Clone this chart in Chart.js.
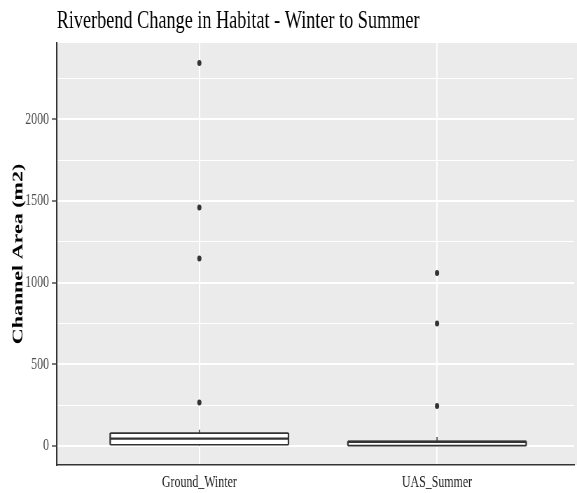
<!DOCTYPE html>
<html>
<head>
<meta charset="utf-8">
<script src="https://cdn.jsdelivr.net/npm/chart.js@4"></script>
<style>
html,body{margin:0;padding:0;overflow:hidden;background:#fff;width:577px;height:493px;}
#c{position:absolute;left:0;top:0;width:824px;height:493px;transform:scaleX(0.7002);transform-origin:0 0;}
</style>
</head>
<body>
<canvas id="c" width="824" height="493"></canvas>
<script>
// ---- data ----
const categories = ["Ground_Winter", "UAS_Summer"];
const whiskerLow  = [2, 0];
const q1          = [7, 1];
const median      = [44, 24];
const q3          = [78, 28];
const whiskerHigh = [99, 54];
const outliersGround = [2345, 1460, 1148, 265];
const outliersUAS    = [1059, 749, 244];
const yTicks = [0, 250, 500, 750, 1000, 1250, 1500, 1750, 2000, 2250];
const yMin = -117.5, yMax = 2467.5;
const xMin = 0.4, xMax = 2.577;

const SERIF = "'Liberation Serif', 'Times New Roman', serif";
const DARK = "#333333";

const panelBg = {
  id: 'panelBg',
  beforeDraw(chart) {
    const {ctx, chartArea: a} = chart;
    ctx.save();
    ctx.fillStyle = '#EBEBEB';
    ctx.fillRect(a.left, a.top, Math.max(a.right, chart.width) - a.left, a.bottom - a.top);
    ctx.restore();
  }
};

const boxPlot = {
  id: 'boxPlot',
  beforeDatasetsDraw(chart) {
    const {ctx} = chart;
    const xs = chart.scales.x, ys = chart.scales.y;
    const halfW = 0.375;
    ctx.save();
    categories.forEach((c, i) => {
      const pos = i + 1;
      const xc = xs.getPixelForValue(pos);
      const xl = xs.getPixelForValue(pos - halfW);
      const xr = xs.getPixelForValue(pos + halfW);
      const yq1 = ys.getPixelForValue(q1[i]);
      const yq3 = ys.getPixelForValue(q3[i]);
      const ymed = ys.getPixelForValue(median[i]);
      const ylo = ys.getPixelForValue(whiskerLow[i]);
      const yhi = ys.getPixelForValue(whiskerHigh[i]);
      ctx.strokeStyle = DARK;
      ctx.lineWidth = 1.5;
      ctx.beginPath();
      ctx.moveTo(xc, yq3); ctx.lineTo(xc, yhi);
      ctx.moveTo(xc, yq1); ctx.lineTo(xc, ylo);
      ctx.stroke();
      ctx.fillStyle = '#ffffff';
      ctx.fillRect(xl, yq3, xr - xl, yq1 - yq3);
      ctx.lineWidth = 1.6;
      ctx.beginPath();
      ctx.moveTo(xl, yq3); ctx.lineTo(xr, yq3);
      ctx.moveTo(xl, yq1); ctx.lineTo(xr, yq1);
      ctx.stroke();
      ctx.lineWidth = 2.2;
      ctx.beginPath();
      ctx.moveTo(xl, yq3); ctx.lineTo(xl, yq1);
      ctx.moveTo(xr, yq3); ctx.lineTo(xr, yq1);
      ctx.stroke();
      ctx.lineWidth = 2.4;
      ctx.beginPath();
      ctx.moveTo(xl, ymed); ctx.lineTo(xr, ymed);
      ctx.stroke();
    });
    ctx.restore();
  }
};

new Chart(document.getElementById('c'), {
  type: 'scatter',
  data: {
    datasets: [
      { data: outliersGround.map(v => ({x: 1, y: v})) },
      { data: outliersUAS.map(v => ({x: 2, y: v})) }
    ]
  },
  options: {
    responsive: false,
    devicePixelRatio: 1,
    animation: false,
    layout: { padding: { left: 0, right: -6, top: 0, bottom: 0 } },
    elements: {
      point: { radius: 3, backgroundColor: DARK, borderColor: DARK, borderWidth: 0 }
    },
    plugins: {
      legend: { display: false },
      tooltip: { enabled: false },
      title: {
        display: true,
        text: 'Riverbend Change in Habitat - Winter to Summer',
        align: 'start',
        fullSize: false,
        color: '#000',
        font: { family: SERIF, size: 26, weight: 'normal' },
        padding: { top: 6, bottom: 5.8 }
      }
    },
    scales: {
      x: {
        type: 'linear',
        min: xMin, max: xMax,
        afterBuildTicks(scale) { scale.ticks = categories.map((c, i) => ({value: i + 1})); },
        afterFit(scale) { scale.height = 28; scale.paddingLeft = 0; scale.paddingRight = 0; },
        ticks: {
          callback: (v) => categories[Math.round(v) - 1] || '',
          color: '#222',
          font: { family: SERIF, size: 17 },
          padding: 7,
          maxRotation: 0
        },
        grid: { color: '#ffffff', lineWidth: 2, drawTicks: false },
        border: { display: true, color: DARK, width: 1.6 }
      },
      y: {
        type: 'linear',
        min: yMin, max: yMax,
        afterBuildTicks(scale) { scale.ticks = yTicks.map(v => ({value: v})); },
        afterFit(scale) { scale.width = 81; scale.paddingTop = 0; scale.paddingBottom = 0; },
        ticks: {
          callback: (v) => (v % 500 === 0 ? String(v) : ''),
          color: '#4D4D4D',
          font: { family: SERIF, size: 17 },
          padding: 4
        },
        grid: {
          color: '#ffffff',
          lineWidth: (ctx) => (ctx.tick && ctx.tick.value % 500 === 0 ? 2 : 1),
          tickColor: (ctx) => (ctx.tick && ctx.tick.value % 500 === 0 ? DARK : 'rgba(0,0,0,0)'),
          tickLength: 7,
          tickWidth: 1.3
        },
        border: { display: true, color: DARK, width: 2 },
        title: {
          display: true,
          text: 'Channel Area (m2)',
          color: '#000',
          font: { family: SERIF, size: 22, weight: 'bold' },
          padding: { top: 13, bottom: 0 }
        }
      }
    }
  },
  plugins: [panelBg, boxPlot]
});
</script>
</body>
</html>
